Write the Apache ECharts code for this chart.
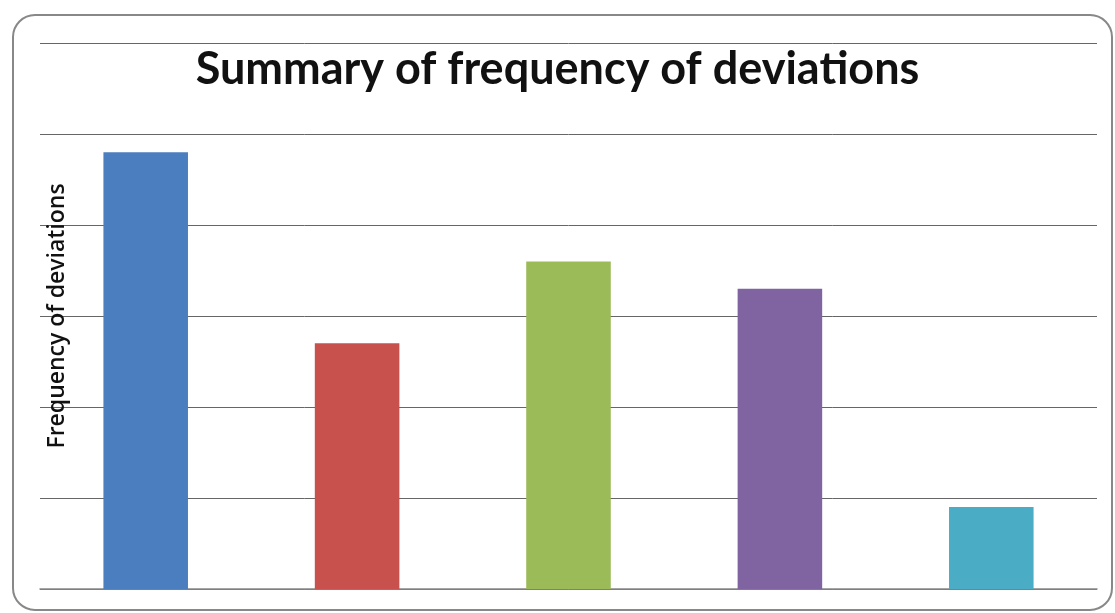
<!DOCTYPE html>
<html>
<head>
<meta charset="utf-8">
<script src="https://cdn.jsdelivr.net/npm/echarts@6/dist/echarts.min.js"></script>
<style>
  html, body { margin: 0; padding: 0; background: #fff; }
  #main { width: 1115px; height: 613px; }
</style>
</head>
<body>
<div id="main"></div>
<script>
// values (no tick labels shown, scale 0-60 assumed)
var categories = ['A', 'B', 'C', 'D', 'E'];
var frequency = [48, 27, 36, 33, 9];
var barColors = ['#4a7ebf', '#c8504d', '#9bbb59', '#8064a2', '#4bacc6'];

var myChart = echarts.init(document.getElementById('main'));

var option = {
  backgroundColor: '#fff',
  animation: false,
  title: {
    text: 'Summary of frequency of deviations',
    left: 'center',
    top: 42,
    textStyle: {
      fontFamily: 'Lato',
      fontWeight: 'bold',
      fontSize: 45,
      color: '#111'
    }
  },
  graphic: [{
    type: 'rect',
    shape: { x: 13, y: 15, width: 1099, height: 595, r: 22 },
    style: { fill: 'none', stroke: '#888', lineWidth: 2 },
    z: -1
  }],
  grid: { left: 40, right: 18, top: 43, bottom: 24 },
  xAxis: {
    type: 'category',
    data: categories,
    axisLine: { lineStyle: { color: '#888', width: 1.5 } },
    axisTick: { show: false },
    axisLabel: { show: false }
  },
  yAxis: {
    type: 'value',
    min: 0,
    max: 60,
    interval: 10,
    name: 'Frequency of deviations',
    nameLocation: 'middle',
    nameGap: -29,
    nameTextStyle: {
      fontFamily: 'Open Sans',
      fontWeight: 600,
      fontSize: 23,
      color: '#111'
    },
    axisLine: { show: false },
    axisTick: { show: false },
    axisLabel: { show: false },
    splitLine: { lineStyle: { color: '#666', width: 1 } }
  },
  series: [{
    type: 'bar',
    barWidth: '40%',
    data: frequency.map(function (v, i) {
      return { value: v, itemStyle: { color: barColors[i] } };
    })
  }]
};

myChart.setOption(option);
</script>
</body>
</html>
